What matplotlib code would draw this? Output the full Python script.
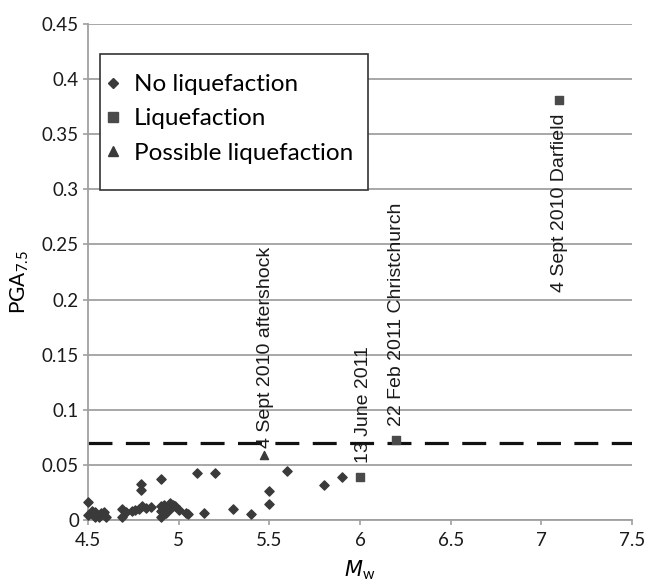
import numpy as np
import matplotlib
matplotlib.use("Agg")
from matplotlib import pyplot as plt
from matplotlib.lines import Line2D
from matplotlib.patches import Rectangle

# no liquefaction events (Mw, PGA7.5)
no_liq_mw = [4.50, 4.50, 4.52, 4.54, 4.54, 4.57, 4.56, 4.59, 4.60,
             4.69, 4.69, 4.71, 4.74, 4.76, 4.78, 4.79, 4.79, 4.80, 4.82, 4.85,
             4.90, 4.90, 4.90, 4.90, 4.92, 4.93, 4.95, 4.96, 4.97, 4.98, 5.00,
             5.04, 5.05, 5.10, 5.14, 5.20, 5.30, 5.40, 5.50, 5.50, 5.60,
             5.80, 5.90]
no_liq_pga = [0.016, 0.0045, 0.008, 0.007, 0.003, 0.006, 0.003, 0.007, 0.003,
              0.010, 0.003, 0.007, 0.008, 0.009, 0.010, 0.033, 0.027, 0.013, 0.011, 0.012,
              0.037, 0.013, 0.008, 0.003, 0.014, 0.006, 0.015, 0.011, 0.014, 0.013, 0.009,
              0.006, 0.0055, 0.043, 0.006, 0.043, 0.010, 0.005, 0.0145, 0.026, 0.044,
              0.032, 0.039]

# liquefaction events
liq_mw = [6.0, 6.2, 7.1]
liq_pga = [0.039, 0.073, 0.381]
liq_labels = ["13 June 2011", "22 Feb 2011 Christchurch", "4 Sept 2010 Darfield"]

# possible liquefaction
poss_mw = [5.47]
poss_pga = [0.059]
poss_labels = ["4 Sept 2010 aftershock"]

threshold = 0.07

yticks = [0, 0.05, 0.1, 0.15, 0.2, 0.25, 0.3, 0.35, 0.4, 0.45]
ytick_labels = ["0", "0.05", "0.1", "0.15", "0.2", "0.25", "0.3", "0.35", "0.4", "0.45"]
xticks = [4.5, 5, 5.5, 6, 6.5, 7, 7.5]
xtick_labels = ["4.5", "5", "5.5", "6", "6.5", "7", "7.5"]

plt.rcParams['font.family'] = ['Lato', 'DejaVu Sans']

fig = plt.figure(figsize=(6.51, 5.81), dpi=100)
ax = fig.add_axes([0.1352, 0.105, 0.8356, 0.8537])

grid_col = "#a0a0a0"
mk_col = "#3a3a3a"

for y in yticks:
    ax.axhline(y, color=grid_col, lw=1.3, zorder=1)

ax.axhline(threshold, color="#111111", lw=2.3, dashes=(7.5, 4.2), zorder=2)

ax.scatter(no_liq_mw, no_liq_pga, marker="D", s=22, color=mk_col, zorder=3, clip_on=False)
ax.scatter(liq_mw, liq_pga, marker="s", s=30, color="#4a4a4a", zorder=3, clip_on=False)
ax.scatter(poss_mw, poss_pga, marker="^", s=34, color=mk_col, zorder=3, clip_on=False)

# rotated data labels (Excel style, next to the points)
lab_font = dict(family="Liberation Sans", fontsize=14, color="#1a1a1a", rotation=90,
                ha="center", zorder=4)
ax.text(poss_mw[0] + 0.008, poss_pga[0] + 0.006, poss_labels[0], va="bottom", **lab_font)
ax.text(liq_mw[0] + 0.02, liq_pga[0] + 0.013, liq_labels[0], va="bottom", **lab_font)
ax.text(liq_mw[1] + 0.0, liq_pga[1] + 0.012, liq_labels[1], va="bottom", **lab_font)
ax.text(liq_mw[2] + 0.0, liq_pga[2] - 0.012, liq_labels[2], va="top", **lab_font)

ax.set_xlim(4.5, 7.5)
ax.set_ylim(0, 0.45)
ax.set_xticks(xticks)
ax.set_xticklabels(xtick_labels)
ax.set_yticks(yticks)
ax.set_yticklabels(ytick_labels)
ax.tick_params(axis="both", labelsize=13.5, colors=grid_col, labelcolor="#1a1a1a",
               length=3.5, width=1.2, direction="out")
ax.tick_params(axis="x", pad=5)
ax.tick_params(axis="y", pad=3)

for side in ["top", "right"]:
    ax.spines[side].set_visible(False)
for side in ["left", "bottom"]:
    ax.spines[side].set_color(grid_col)
    ax.spines[side].set_linewidth(1.3)

ax.set_ylabel(r"PGA$_{\mathregular{7.5}}$", fontsize=15)
ax.yaxis.set_label_coords(-0.105, 0.48)
ax.set_xlabel(r"$\mathit{M}_{\mathregular{w}}$", fontsize=15, labelpad=7)

handles = [
    Line2D([], [], marker="D", ls="", color=mk_col, markersize=5),
    Line2D([], [], marker="s", ls="", color="#4a4a4a", markersize=6.5),
    Line2D([], [], marker="^", ls="", color=mk_col, markersize=7),
]
leg = ax.legend(handles, ["No liquefaction", "Liquefaction", "Possible liquefaction"],
                loc="upper left", bbox_to_anchor=(0.033, 0.899), fontsize=17.5,
                frameon=False, handletextpad=0.55, handlelength=0.6,
                borderpad=0, labelspacing=0.55, borderaxespad=0)
# legend frame, drawn separately to get Excel-like padding
ax.add_patch(Rectangle((0.022, 0.6653), 0.4927, 0.2742, transform=ax.transAxes,
                       facecolor="white", edgecolor="#333333", lw=1.2, zorder=5))
leg.set_zorder(6)

fig.savefig("out.png", dpi=100)
